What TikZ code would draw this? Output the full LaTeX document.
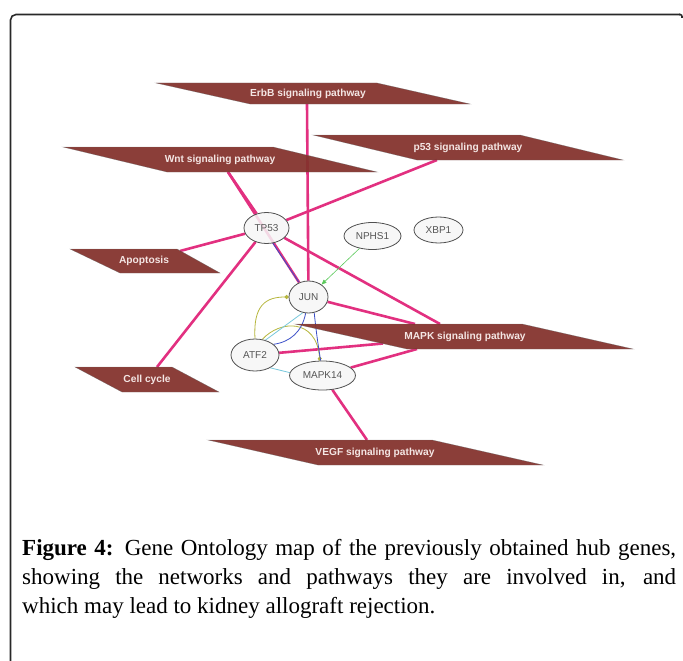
\documentclass[tikz,border=0pt]{standalone}
\usepackage{fontspec}
\setmainfont{Liberation Serif}
\newfontfamily\arialf{Liberation Sans}
\usetikzlibrary{backgrounds,arrows.meta,shapes.geometric}
\definecolor{pwfill}{RGB}{132,50,45}
\definecolor{pwtext}{RGB}{244,230,228}
\definecolor{hot}{RGB}{226,48,128}
\definecolor{genefill}{RGB}{246,246,246}
\definecolor{genedraw}{RGB}{80,80,80}
\definecolor{genetext}{RGB}{85,85,85}
\definecolor{olivec}{RGB}{182,182,60}
\definecolor{cyanc}{RGB}{120,200,220}
\definecolor{bluec}{RGB}{60,80,200}
\definecolor{greenc}{RGB}{90,200,90}
\definecolor{framec}{RGB}{40,40,40}
\begin{document}
\begin{tikzpicture}[x=1pt,y=-1pt,
  gene/.style={ellipse,draw=genedraw,fill=genefill,fill opacity=0.85,text opacity=1,
    line width=0.8pt,inner sep=0pt,font=\arialf\fontsize{10}{12}\selectfont,text=genetext},
  pw/.style={fill=pwfill,fill opacity=0.94,draw=black!60,line width=0.4pt,draw opacity=0.6},
  pwlabel/.style={inner sep=0pt,font=\arialf\bfseries\fontsize{10.2}{12}\selectfont,text=pwtext},
  hotedge/.style={draw=hot,line width=2.6pt},
  thinedge/.style={line width=0.8pt}]
\useasboundingbox (0,0) rectangle (683,661);
% frame
\draw[framec,line width=1.6pt,rounded corners=5.5pt] (10.5,661) -- (10.5,14.5) -- (680,14.5);
\draw[framec,line width=1.6pt,rounded corners=2pt] (679,14.5) -- (682,14.5) -- (682,18);

% gene nodes
\node[gene,minimum width=45pt,minimum height=31pt] (tp53) at (266.5,228) {TP53};
\node[gene,minimum width=57pt,minimum height=27pt] (nphs1) at (372.5,236) {NPHS1};
\node[gene,minimum width=49pt,minimum height=26pt] (xbp1) at (438.5,230) {XBP1};
\node[gene,minimum width=39pt,minimum height=32pt] (jun) at (308.5,297) {JUN};
\node[gene,minimum width=48pt,minimum height=32pt] (atf2) at (255,355) {ATF2};
\node[gene,minimum width=66pt,minimum height=29pt] (mapk14) at (322.5,375.5) {MAPK14};

% pathway shapes
\fill[pw] (156,83) -- (377,83) -- (470,104) -- (250,104) -- cycle;
\node[pwlabel] (erbb) at (308,93.5) {ErbB signaling pathway};
\coordinate (erbb-e) at (307,104);
\fill[pw] (63,147) -- (273,147) -- (377,172) -- (167,172) -- cycle;
\node[pwlabel] (wnt) at (220,159.5) {Wnt signaling pathway};
\coordinate (wnt-e) at (228,172);
\fill[pw] (313,135) -- (520,135) -- (623,160) -- (417,160) -- cycle;
\node[pwlabel] (p53) at (468,147.5) {p53 signaling pathway};
\coordinate (p53-e) at (437,160);
\fill[pw] (70,249) -- (177,249) -- (220,273) -- (120,273) -- cycle;
\node[pwlabel] (apop) at (144,261) {Apoptosis};
\coordinate (apop-e) at (180,251);
\fill[pw] (75,367) -- (172,367) -- (219,392) -- (122,392) -- cycle;
\node[pwlabel] (cell) at (147,379.5) {Cell cycle};
\coordinate (cell-e) at (157,367);
\fill[pw] (295,324) -- (522,324) -- (633,349) -- (407,349) -- cycle;
\node[pwlabel] (mapk) at (465,336.5) {MAPK signaling pathway};
\coordinate (mapk-e1) at (440,324);
\coordinate (mapk-e2) at (415,324);
\coordinate (mapk-e3) at (383,343.5);
\coordinate (mapk-e4) at (417,349);
\fill[pw] (208,440) -- (432,440) -- (543,465) -- (318,465) -- cycle;
\node[pwlabel] (vegf) at (375,452.5) {VEGF signaling pathway};
\coordinate (vegf-e) at (367,440);

% edges (under nodes)
\begin{pgfonlayer}{background}
\draw[hotedge] (erbb-e) -- (jun);
\draw[hotedge] (wnt-e) -- (tp53);
\draw[hotedge] (wnt-e) -- (jun);
\draw[hotedge] (p53-e) -- (tp53);
\draw[hotedge] (apop-e) -- (tp53);
\draw[hotedge] (cell-e) -- (tp53);
\draw[hotedge] (tp53) -- (mapk-e1);
\draw[hotedge] (jun) -- (mapk-e2);
\draw[hotedge] (atf2) -- (mapk-e3);
\draw[hotedge] (mapk14) -- (mapk-e4);
\draw[hotedge] (mapk14) -- (vegf-e);
\draw[thinedge,bluec] ([xshift=-1.8pt]tp53.-62) -- ([xshift=-1.8pt]jun.118);
\draw[greenc,line width=0.6pt,-{Triangle[length=5pt,width=4pt]}] (nphs1) -- (jun);
\draw[thinedge,olivec,-{Circle[length=4pt]}] (atf2.north) .. controls (253,305) and (266,297) .. (jun.west);
\draw[thinedge,olivec,-{Circle[length=4pt]}] (atf2.65) .. controls (280,320) and (316,318) .. (mapk14.100);
\draw[thinedge,cyanc] (atf2.55) -- (jun.250);
\draw[thinedge,bluec] (jun.260) .. controls (302,332) and (290,342) .. (atf2.30);
\draw[thinedge,bluec] (jun.290) .. controls (316,330) and (318,345) .. (mapk14.97);
\draw[thinedge,cyanc] (atf2.-40) -- (mapk14.175);
\end{pgfonlayer}

% caption
\node[anchor=base west,inner sep=0pt,text width=654pt,align=justify,
  font=\fontsize{23}{29}\selectfont] (cap) at (22,555)
  {\textbf{Figure 4:} Gene Ontology map of the previously obtained hub genes,\linebreak
   showing the networks and pathways they are involved in, and\linebreak
   which may lead to kidney allograft rejection.};
\end{tikzpicture}
\end{document}
